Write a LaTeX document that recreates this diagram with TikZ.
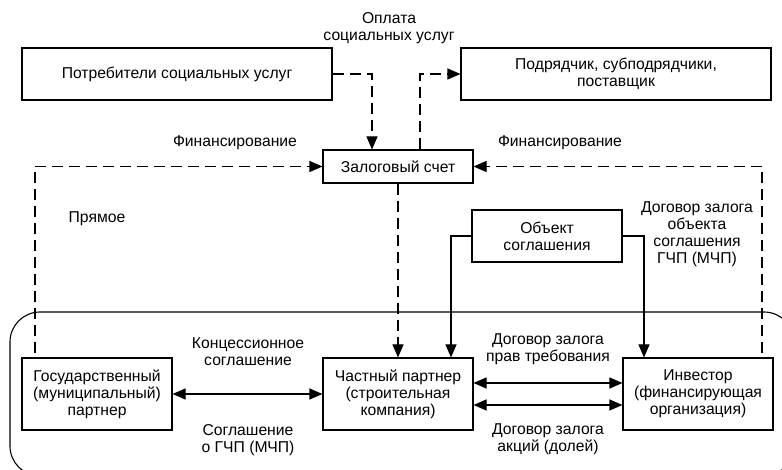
\documentclass[tikz,border=0pt]{standalone}
\usepackage{fontspec}
\setmainfont{Liberation Sans}
\usetikzlibrary{arrows.meta}
\begin{document}
\begin{tikzpicture}[x=1pt,y=-1pt,
  every node/.style={font=\fontsize{15.7}{17}\selectfont, align=center},
  box/.style={draw, line width=1.1pt, inner sep=0pt, minimum width=150pt, minimum height=72pt},
  lbl/.style={inner sep=0pt},
  dline/.style={line width=1.1pt, dash pattern=on 11pt off 6pt},
  sline/.style={line width=1.1pt},
  tip/.style={-{Triangle[length=13pt,width=11pt]}},
  dtip/.style={{Triangle[length=13pt,width=11pt]}-{Triangle[length=13pt,width=11pt]}}
]
\useasboundingbox (0,0) rectangle (782,470);
\clip (0,0) rectangle (782,470);
% big rounded frame (its right side lies outside the picture)
\draw[line width=1.1pt, rounded corners=30pt] (794,380) |- (10,312) |- (794,476) -- (794,420);
% boxes
\node[box, minimum width=310pt, minimum height=52pt] (potr) at (177,74) {Потребители социальных услуг};
\node[box, minimum width=310pt, minimum height=52pt] (podr) at (616,74) {Подрядчик, субподрядчики,\\поставщик};
\node[box, minimum height=33pt] (zal) at (398,166.5) {Залоговый счет};
\node[box, minimum height=52pt] (obj) at (547,236) {Объект\\соглашения};
\node[box] (gos) at (97,394) {Государственный\\(муниципальный)\\партнер};
\node[box] (chast) at (398,394) {Частный партнер\\(строительная\\компания)};
\node[box] (inv) at (698,394) {Инвестор\\(финансирующая\\организация)};
% labels
\node[lbl] (l1) at (389,28) {Оплата\\социальных услуг};
\node[lbl] (l2) at (235,143) {Финансирование};
\node[lbl] (l3) at (560,143) {Финансирование};
\node[lbl] (l4) at (97,219) {Прямое};
\node[lbl] (l5) at (697,234) {Договор залога\\объекта\\соглашения\\ГЧП (МЧП)};
\node[lbl] (l6) at (248,352) {Концессионное\\соглашение};
\node[lbl] (l7) at (248,440) {Соглашение\\о ГЧП (МЧП)};
\node[lbl] (l8) at (548,349) {Договор залога\\прав требования};
\node[lbl] (l9) at (548,439) {Договор залога\\акций (долей)};
% dashed connectors
\draw[dline, tip] (potr.east) -| ([xshift=-26pt]zal.north);
\draw[dline, tip] ([xshift=22pt]zal.north) |- (podr.west);
\draw[dline, tip, shorten <=4pt] ([xshift=-62pt]gos.north) |- (zal.west);
\draw[dline, tip, shorten <=4pt] ([xshift=64pt]inv.north) |- (zal.east);
\draw[dline, tip] (zal.south) -- (chast.north);
% solid connectors
\draw[sline, tip] (obj.west) -| ([xshift=53pt]chast.north);
\draw[sline, tip] (obj.east) -| ([xshift=-54pt]inv.north);
\draw[sline, dtip] (gos.east) -- (chast.west);
\draw[sline, dtip] ([yshift=11pt]chast.east) -- ([yshift=11pt]inv.west);
\draw[sline, dtip] ([yshift=-11pt]chast.east) -- ([yshift=-11pt]inv.west);
\end{tikzpicture}
\end{document}
